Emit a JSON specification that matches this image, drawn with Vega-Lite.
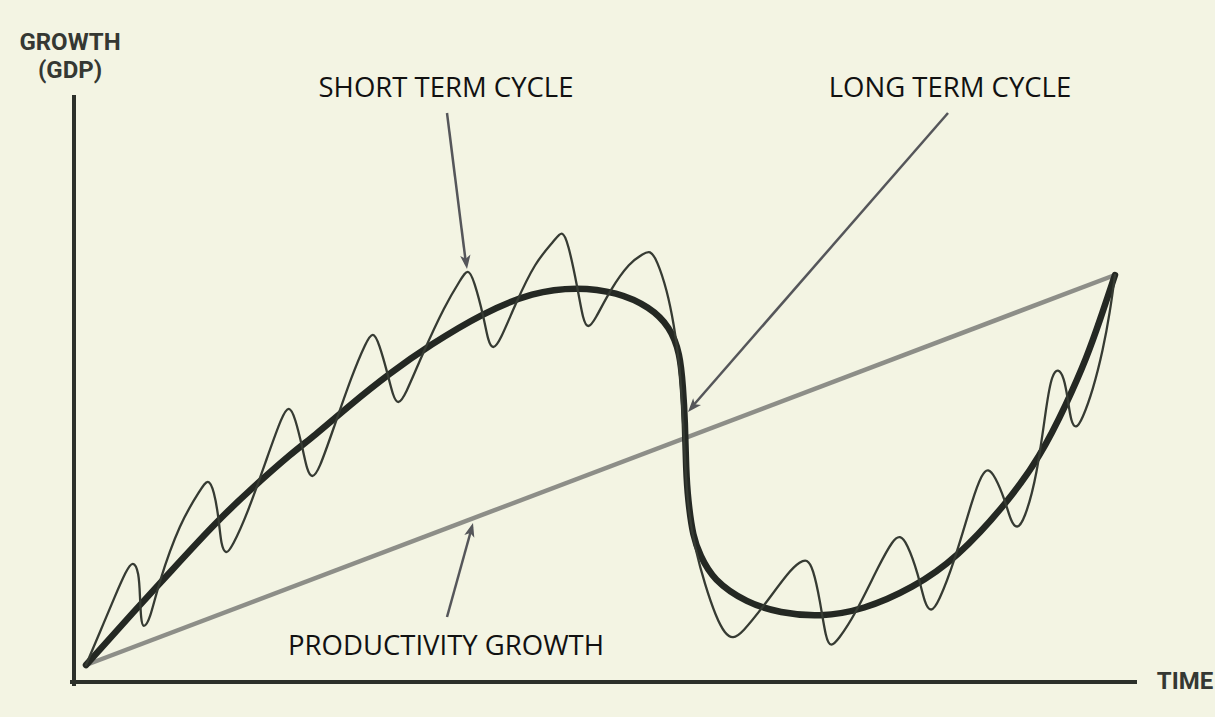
{
  "$schema": "https://vega.github.io/schema/vega-lite/v6.json",
  "width": 1215,
  "height": 717,
  "autosize": {"type": "fit", "contains": "padding"},
  "padding": 0,
  "background": "#f3f4e3",
  "config": {"view": {"stroke": null}},
  "datasets": {
    "short": [
      {"i":0,"t":86,"g":35},{"i":1,"t":100,"g":68},{"i":2,"t":115,"g":104},{"i":3,"t":126,"g":129},{"i":4,"t":133,"g":140},
      {"i":5,"t":139,"g":128},{"i":6,"t":140,"g":102},{"i":7,"t":141,"g":81},{"i":8,"t":143,"g":71},{"i":9,"t":150,"g":80},
      {"i":10,"t":158,"g":115},{"i":11,"t":180,"g":178},{"i":12,"t":201,"g":211},{"i":13,"t":208,"g":222},{"i":14,"t":214,"g":210},
      {"i":15,"t":219,"g":180},{"i":16,"t":221,"g":155},{"i":17,"t":226,"g":145},{"i":18,"t":232,"g":153},{"i":19,"t":247,"g":185},
      {"i":20,"t":268,"g":245},{"i":21,"t":282,"g":284},{"i":22,"t":289,"g":295},{"i":23,"t":295,"g":283},{"i":24,"t":303,"g":250},
      {"i":25,"t":307,"g":230},{"i":26,"t":312,"g":221},{"i":27,"t":319,"g":230},{"i":28,"t":333,"g":270},{"i":29,"t":352,"g":325},
      {"i":30,"t":366,"g":358},{"i":31,"t":373,"g":369},{"i":32,"t":379,"g":357},{"i":33,"t":388,"g":325},{"i":34,"t":393,"g":304},
      {"i":35,"t":398,"g":295},{"i":36,"t":405,"g":304},{"i":37,"t":422,"g":345},{"i":38,"t":445,"g":395},{"i":39,"t":461,"g":421},
      {"i":40,"t":468,"g":432},{"i":41,"t":474,"g":420},{"i":42,"t":484,"g":382},{"i":43,"t":488,"g":359},{"i":44,"t":493,"g":350},
      {"i":45,"t":500,"g":359},{"i":46,"t":515,"g":395},{"i":47,"t":535,"g":438},{"i":48,"t":555,"g":460},{"i":49,"t":562,"g":470},
      {"i":50,"t":568,"g":458},{"i":51,"t":578,"g":410},{"i":52,"t":583,"g":380},{"i":53,"t":588,"g":371},{"i":54,"t":595,"g":380},
      {"i":55,"t":610,"g":410},{"i":56,"t":630,"g":438},{"i":57,"t":643,"g":446},{"i":58,"t":650,"g":450},{"i":59,"t":657,"g":440},
      {"i":60,"t":667,"g":410},{"i":61,"t":674,"g":375},{"i":62,"t":679,"g":340},{"i":63,"t":682,"g":300},{"i":64,"t":684,"g":260},
      {"i":65,"t":686,"g":220},{"i":66,"t":689,"g":185},{"i":67,"t":695,"g":152},{"i":68,"t":705,"g":115},{"i":69,"t":716,"g":83},
      {"i":70,"t":725,"g":66},{"i":71,"t":733,"g":61},{"i":72,"t":742,"g":67},{"i":73,"t":763,"g":93},{"i":74,"t":790,"g":130},
      {"i":75,"t":800,"g":138},{"i":76,"t":807,"g":141},{"i":77,"t":813,"g":132},{"i":78,"t":820,"g":100},{"i":79,"t":826,"g":60},
      {"i":80,"t":831,"g":53},{"i":81,"t":838,"g":60},{"i":82,"t":855,"g":85},{"i":83,"t":880,"g":137},{"i":84,"t":893,"g":160},
      {"i":85,"t":900,"g":165},{"i":86,"t":907,"g":157},{"i":87,"t":918,"g":127},{"i":88,"t":925,"g":95},{"i":89,"t":931,"g":88},
      {"i":90,"t":938,"g":96},{"i":91,"t":955,"g":140},{"i":92,"t":973,"g":203},{"i":93,"t":982,"g":226},{"i":94,"t":988,"g":232},
      {"i":95,"t":995,"g":224},{"i":96,"t":1005,"g":200},{"i":97,"t":1011,"g":178},{"i":98,"t":1017,"g":171},{"i":99,"t":1024,"g":179},
      {"i":100,"t":1037,"g":223},{"i":101,"t":1047,"g":300},{"i":102,"t":1052,"g":325},{"i":103,"t":1058,"g":332},{"i":104,"t":1064,"g":323},
      {"i":105,"t":1068,"g":300},{"i":106,"t":1071,"g":278},{"i":107,"t":1076,"g":271},{"i":108,"t":1082,"g":280},{"i":109,"t":1093,"g":310},
      {"i":110,"t":1103,"g":350},{"i":111,"t":1110,"g":388},{"i":112,"t":1115,"g":425}
    ],
    "long": [
      {"i":0,"t":86,"g":35},{"i":1,"t":138,"g":93},{"i":2,"t":163,"g":120},{"i":3,"t":215,"g":177},{"i":4,"t":250,"g":210},
      {"i":5,"t":293,"g":248},{"i":6,"t":313,"g":263},{"i":7,"t":350,"g":295},{"i":8,"t":390,"g":327},{"i":9,"t":430,"g":355},
      {"i":10,"t":483,"g":387},{"i":11,"t":533,"g":408},{"i":12,"t":577,"g":413},{"i":13,"t":617,"g":408},{"i":14,"t":650,"g":393},
      {"i":15,"t":670,"g":373},{"i":16,"t":680,"g":347},{"i":17,"t":683,"g":313},{"i":18,"t":685,"g":280},{"i":19,"t":686,"g":230},
      {"i":20,"t":688,"g":200},{"i":21,"t":693,"g":163},{"i":22,"t":700,"g":145},{"i":23,"t":713,"g":120},{"i":24,"t":747,"g":97},
      {"i":25,"t":780,"g":87},{"i":26,"t":820,"g":83},{"i":27,"t":863,"g":90},{"i":28,"t":913,"g":112},{"i":29,"t":957,"g":142},
      {"i":30,"t":1007,"g":197},{"i":31,"t":1040,"g":243},{"i":32,"t":1067,"g":297},{"i":33,"t":1087,"g":343},{"i":34,"t":1100,"g":380},
      {"i":35,"t":1115,"g":425}
    ],
    "productivity": [{"t":86,"g":35},{"t":1115,"g":425}],
    "axes": [
      {"t":74,"g":603,"t2":74,"g2":16},
      {"t":72,"g":18,"t2":1135,"g2":18}
    ],
    "arrows": [
      {"name":"short","t":447,"g":587,"t2":466,"g2":436},
      {"name":"long","t":948,"g":587,"t2":691,"g2":292},
      {"name":"prod","t":447,"g":83,"t2":472,"g2":173}
    ],
    "tipShort": [{"t":467,"g":431}],
    "tipLong": [{"t":688,"g":288}],
    "tipProd": [{"t":473,"g":177}],
    "labels": [
      {"label":"SHORT TERM CYCLE","t":446,"g":603},
      {"label":"LONG TERM CYCLE","t":950,"g":603},
      {"label":"PRODUCTIVITY GROWTH","t":446,"g":45}
    ],
    "axisTitles": [
      {"label":"GROWTH","t":70,"g":650},
      {"label":"(GDP)","t":70,"g":622},
      {"label":"TIME","t":1185,"g":11}
    ]
  },
  "layer": [
    {
      "data": {"name": "axes"},
      "mark": {"type": "rule", "color": "#2c302a", "strokeWidth": 4, "strokeCap": "square"},
      "encoding": {
        "x": {"field": "t", "type": "quantitative", "axis": null, "scale": {"domain": [0, 1215], "nice": false, "zero": false}},
        "y": {"field": "g", "type": "quantitative", "axis": null, "scale": {"domain": [-17, 700], "nice": false, "zero": false}},
        "x2": {"field": "t2"},
        "y2": {"field": "g2"}
      }
    },
    {
      "data": {"name": "productivity"},
      "mark": {"type": "line", "color": "#8d8e88", "strokeWidth": 4.5},
      "encoding": {
        "x": {"field": "t", "type": "quantitative"},
        "y": {"field": "g", "type": "quantitative"}
      }
    },
    {
      "data": {"name": "long"},
      "mark": {"type": "line", "color": "#242823", "strokeWidth": 6.5, "interpolate": "basis", "strokeCap": "round"},
      "encoding": {
        "x": {"field": "t", "type": "quantitative"},
        "y": {"field": "g", "type": "quantitative"},
        "order": {"field": "i", "type": "quantitative"}
      }
    },
    {
      "data": {"name": "short"},
      "mark": {"type": "line", "color": "#363b33", "strokeWidth": 2.3, "interpolate": "basis", "strokeCap": "round", "strokeJoin": "round"},
      "encoding": {
        "x": {"field": "t", "type": "quantitative"},
        "y": {"field": "g", "type": "quantitative"},
        "order": {"field": "i", "type": "quantitative"}
      }
    },
    {
      "data": {"name": "arrows"},
      "mark": {"type": "rule", "color": "#55565a", "strokeWidth": 2.5},
      "encoding": {
        "x": {"field": "t", "type": "quantitative"},
        "y": {"field": "g", "type": "quantitative"},
        "x2": {"field": "t2"},
        "y2": {"field": "g2"}
      }
    },
    {
      "data": {"name": "tipShort"},
      "mark": {"type": "point", "shape": "M0,0L-0.6,1.6L0,1.2L0.6,1.6Z", "filled": true, "color": "#55565a", "opacity": 1, "size": 300, "angle": 173},
      "encoding": {
        "x": {"field": "t", "type": "quantitative"},
        "y": {"field": "g", "type": "quantitative"}
      }
    },
    {
      "data": {"name": "tipLong"},
      "mark": {"type": "point", "shape": "M0,0L-0.6,1.6L0,1.2L0.6,1.6Z", "filled": true, "color": "#55565a", "opacity": 1, "size": 300, "angle": 221},
      "encoding": {
        "x": {"field": "t", "type": "quantitative"},
        "y": {"field": "g", "type": "quantitative"}
      }
    },
    {
      "data": {"name": "tipProd"},
      "mark": {"type": "point", "shape": "M0,0L-0.6,1.6L0,1.2L0.6,1.6Z", "filled": true, "color": "#55565a", "opacity": 1, "size": 300, "angle": 15.5},
      "encoding": {
        "x": {"field": "t", "type": "quantitative"},
        "y": {"field": "g", "type": "quantitative"}
      }
    },
    {
      "data": {"name": "labels"},
      "mark": {"type": "text", "font": "Open Sans", "fontSize": 27.5, "color": "#111111", "align": "center", "baseline": "alphabetic"},
      "encoding": {
        "x": {"field": "t", "type": "quantitative"},
        "y": {"field": "g", "type": "quantitative"},
        "text": {"field": "label"}
      }
    },
    {
      "data": {"name": "axisTitles"},
      "mark": {"type": "text", "font": "Roboto", "fontWeight": "bold", "fontSize": 24, "color": "#353833", "align": "center", "baseline": "alphabetic"},
      "encoding": {
        "x": {"field": "t", "type": "quantitative"},
        "y": {"field": "g", "type": "quantitative"},
        "text": {"field": "label"}
      }
    }
  ]
}
